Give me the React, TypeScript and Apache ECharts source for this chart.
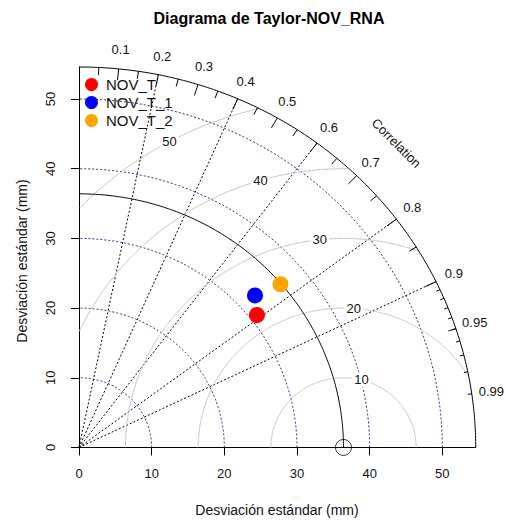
import React, { useEffect, useRef } from 'react';
import * as echarts from 'echarts';

// ---- data ----
const modelNames = ['NOV_T', 'NOV_T_1', 'NOV_T_2'];
const modelColors = ['#ff0000', '#0000ff', '#ffa500'];
const modelSd = [31.0, 32.6, 36.3];
const modelCorr = [0.79, 0.743, 0.764];
const refSd = 36.4;
const axisTicks = [0, 10, 20, 30, 40, 50];
const sdArcs = [10, 20, 30, 40, 50];
const gammaLevels = [10, 20, 30, 40, 50];
const gammaLabelIdx = [45, 51, 57, 63, 70];
const radialCorr = [0.2, 0.4, 0.6, 0.8, 0.9];
const corrLabels = [0.1, 0.2, 0.3, 0.4, 0.5, 0.6, 0.7, 0.8, 0.9, 0.95, 0.99];
const bigTicks = [0.1, 0.2, 0.3, 0.4, 0.5, 0.6, 0.7, 0.8, 0.9];
const medTicks = [0.05, 0.15, 0.25, 0.35, 0.45, 0.55, 0.65, 0.75, 0.85, 0.95];
const smlTicks = [0.91, 0.92, 0.93, 0.94, 0.95, 0.96, 0.97, 0.98, 0.99];

const MAXSD = 1.5 * Math.max(refSd, ...modelSd);
const FONT = '"Liberation Sans", Arial, sans-serif';

function quarterArc(r: number): number[][] {
  const pts: number[][] = [];
  const n = 200;
  for (let i = 0; i <= n; i++) {
    const t = (Math.PI / 2) * (i / n);
    pts.push([r * Math.cos(t), r * Math.sin(t)]);
  }
  return pts;
}

function gammaArc(g: number): number[][] {
  const pts: number[][] = [];
  const n = 600;
  for (let i = 0; i <= n; i++) {
    const t = Math.PI * (i / n);
    const x = refSd + g * Math.cos(t);
    const y = g * Math.sin(t);
    if (x < 0) break;
    if (x * x + y * y > MAXSD * MAXSD) continue;
    pts.push([x, y]);
  }
  return pts;
}

const lineBase = {
  type: 'line',
  showSymbol: false,
  symbol: 'none',
  silent: true,
  clip: false,
  animation: false,
};

// custom text series: data items are [x, y], names carry the text
function textSeries(name: string, items: { value: number[]; name: string }[], opts: any, z: number) {
  return {
    type: 'custom',
    name,
    silent: true,
    clip: false,
    data: items,
    z,
    renderItem: (params: any, api: any) => {
      const p = api.coord([api.value(0), api.value(1)]);
      const text = items[params.dataIndex].name;
      return {
        type: 'text',
        x: p[0],
        y: p[1],
        rotation: opts.rotation || 0,
        style: {
          text,
          align: 'center',
          verticalAlign: 'middle',
          fontSize: 13,
          fontFamily: FONT,
          fill: '#111',
          backgroundColor: opts.bg,
          padding: opts.bg ? [1, 2] : 0,
        },
      };
    },
  };
}

export default function App() {
  const ref = useRef<HTMLDivElement>(null);
  useEffect(() => {
    if (!ref.current) return;
    const chart = echarts.init(ref.current, null, { renderer: 'svg' });
    const series: any[] = [];

    radialCorr.forEach((c, i) => {
      series.push({
        ...lineBase,
        name: 'radial' + i,
        data: [[0, 0], [MAXSD * c, MAXSD * Math.sqrt(1 - c * c)]],
        lineStyle: { color: '#000', width: 1, type: [2, 2] },
        z: 1,
      });
    });
    sdArcs.forEach((r, i) => {
      series.push({
        ...lineBase,
        name: 'sdarc' + i,
        data: quarterArc(r),
        lineStyle: { color: '#2c2c78', width: 1, type: [2, 2] },
        z: 1,
      });
    });
    gammaLevels.forEach((g, i) => {
      series.push({
        ...lineBase,
        name: 'gamma' + i,
        data: gammaArc(g),
        lineStyle: { color: '#c4c4c4', width: 1 },
        z: 2,
      });
    });
    series.push(
      textSeries(
        'gammaLabels',
        gammaLevels.map((g, i) => {
          const t = (gammaLabelIdx[i] - 1) * 0.03;
          return { value: [refSd + g * Math.cos(t), g * Math.sin(t)], name: String(g) };
        }),
        { bg: '#fff' },
        3
      )
    );
    series.push({
      ...lineBase,
      name: 'outerArc',
      data: quarterArc(MAXSD),
      lineStyle: { color: '#000', width: 1 },
      z: 4,
    });
    series.push({
      ...lineBase,
      name: 'refArc',
      data: quarterArc(refSd),
      lineStyle: { color: '#000', width: 1 },
      z: 4,
    });
    const tickData = [
      ...bigTicks.map((c) => [c, 0.97]),
      ...medTicks.map((c) => [c, 0.98]),
      ...smlTicks.map((c) => [c, 0.99]),
    ];
    series.push({
      type: 'custom',
      name: 'corrTicks',
      silent: true,
      clip: false,
      data: tickData,
      renderItem: (_p: any, api: any) => {
        const c = api.value(0);
        const f = api.value(1);
        const s = Math.sqrt(1 - c * c);
        const p1 = api.coord([MAXSD * c, MAXSD * s]);
        const p2 = api.coord([f * MAXSD * c, f * MAXSD * s]);
        return {
          type: 'line',
          shape: { x1: p1[0], y1: p1[1], x2: p2[0], y2: p2[1] },
          style: { stroke: '#000', lineWidth: 1 },
        };
      },
      z: 4,
    });
    series.push(
      textSeries(
        'corrLabels',
        corrLabels.map((c) => ({
          value: [1.05 * MAXSD * c, 1.05 * MAXSD * Math.sqrt(1 - c * c)],
          name: String(c),
        })),
        {},
        5
      )
    );
    series.push(
      textSeries(
        'corrTitle',
        [{ value: [0.8 * MAXSD, 0.8 * MAXSD], name: 'Correlation' }],
        { rotation: -Math.PI / 4 },
        5
      )
    );
    series.push({
      type: 'scatter',
      name: 'refPoint',
      silent: true,
      clip: false,
      symbol: 'circle',
      symbolSize: 16,
      itemStyle: { color: 'rgba(0,0,0,0)', borderColor: '#000', borderWidth: 1 },
      data: [[refSd, 0]],
      z: 6,
    });
    modelNames.forEach((n, i) => {
      const c = modelCorr[i];
      const sd = modelSd[i];
      series.push({
        type: 'scatter',
        name: n,
        clip: false,
        symbol: 'circle',
        symbolSize: 16,
        itemStyle: { color: modelColors[i], opacity: 1 },
        data: [[sd * c, sd * Math.sqrt(1 - c * c)]],
        z: 7,
      });
    });

    chart.setOption({
      animation: false,
      textStyle: { fontFamily: FONT },
      grid: {
        left: 79,
        top: 67,
        width: MAXSD * 7.266,
        height: MAXSD * 6.968,
        containLabel: false,
        outerBoundsMode: 'none',
      },
      xAxis: {
        type: 'value',
        min: 0,
        max: MAXSD,
        axisLine: { show: true, onZero: false, lineStyle: { color: '#000', width: 1 } },
        axisTick: { show: true, length: 8, customValues: axisTicks, lineStyle: { color: '#000' } },
        axisLabel: { customValues: axisTicks, fontSize: 13, color: '#111', margin: 20, fontFamily: FONT },
        splitLine: { show: false },
      },
      yAxis: {
        type: 'value',
        min: 0,
        max: MAXSD,
        axisLine: { show: true, onZero: false, lineStyle: { color: '#000', width: 1 } },
        axisTick: { show: true, length: 8, customValues: axisTicks, lineStyle: { color: '#000' } },
        axisLabel: { customValues: axisTicks, fontSize: 13, color: '#111', margin: 22, rotate: 90, fontFamily: FONT },
        splitLine: { show: false },
      },
      legend: {
        data: modelNames,
        orient: 'vertical',
        left: 85,
        top: 77,
        padding: 0,
        itemWidth: 13,
        itemHeight: 13,
        itemGap: 3,
        icon: 'circle',
        textStyle: { fontSize: 15, color: '#111', fontFamily: FONT, padding: [0, 0, 0, 3] },
        selectedMode: false,
      },
      graphic: [
        {
          type: 'text',
          x: 269,
          y: 18,
          style: {
            text: 'Diagrama de Taylor-NOV_RNA',
            align: 'center',
            verticalAlign: 'middle',
            fontSize: 16,
            fontWeight: 'bold',
            fontFamily: FONT,
            fill: '#000',
          },
        },
        {
          type: 'text',
          x: 277,
          y: 510,
          style: {
            text: 'Desviación estándar (mm)',
            align: 'center',
            verticalAlign: 'middle',
            fontSize: 14,
            fontFamily: FONT,
            fill: '#111',
          },
        },
        {
          type: 'text',
          x: 22,
          y: 261,
          rotation: Math.PI / 2,
          style: {
            text: 'Desviación estándar (mm)',
            align: 'center',
            verticalAlign: 'middle',
            fontSize: 14,
            fontFamily: FONT,
            fill: '#111',
          },
        },
      ],
      series,
    });
    return () => chart.dispose();
  }, []);
  return <div ref={ref} style={{ position: 'absolute', left: 0, top: 0, width: 506, height: 520 }} />;
}
